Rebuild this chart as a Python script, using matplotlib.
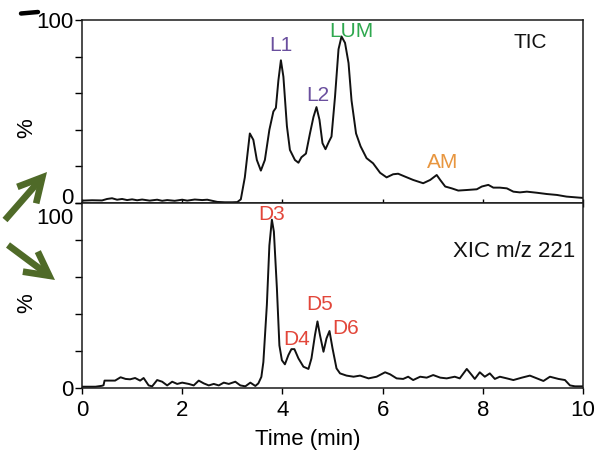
import matplotlib
matplotlib.use("Agg")
import matplotlib.pyplot as plt
from matplotlib.patches import FancyArrowPatch
from matplotlib.lines import Line2D
from matplotlib.transforms import ScaledTranslation

plt.rcParams['font.family'] = ['Liberation Sans', 'DejaVu Sans']

# ---------------- data ----------------
tic_t = [0.0, 0.2, 0.4, 0.5, 0.6, 0.7, 0.8, 0.9, 1.0, 1.1, 1.2, 1.35, 1.5, 1.6, 1.7,
         1.85, 2.0, 2.1, 2.25, 2.4, 2.5, 2.6, 2.7, 2.85, 3.0, 3.1, 3.17, 3.25, 3.35,
         3.42, 3.49, 3.57, 3.65, 3.74, 3.82, 3.87, 3.92, 3.97, 4.02, 4.09, 4.15, 4.25,
         4.32, 4.38, 4.47, 4.55, 4.62, 4.68, 4.74, 4.80, 4.86, 4.93, 4.98, 5.05, 5.12,
         5.18, 5.25, 5.32, 5.38, 5.47, 5.56, 5.68, 5.81, 5.95, 6.08, 6.21, 6.31, 6.45,
         6.61, 6.81, 6.95, 7.08, 7.15, 7.25, 7.38, 7.51, 7.68, 7.88, 7.98, 8.11, 8.21,
         8.34, 8.48, 8.61, 8.74, 8.88, 9.08, 9.28, 9.48, 9.67, 9.94, 10.0]
tic_v = [1.3, 1.5, 1.4, 2.2, 2.6, 1.8, 2.2, 1.6, 2.0, 1.5, 1.9, 1.3, 1.8, 1.2, 1.6,
         1.2, 1.8, 1.3, 1.9, 1.6, 1.8, 1.2, 0.6, 0.4, 0.4, 0.5, 2.0, 14, 38,
         34.5, 23.5, 17.7, 23.5, 40, 50, 52, 67, 78, 69, 42, 29, 23.5,
         22, 25, 27, 38, 47, 52.4, 45.5, 32.7, 29.4, 33.6, 36.3, 58, 84,
         91, 87.5, 76.5, 56, 38, 31, 24.5, 21.7, 16.5, 14, 15.7, 16, 14.4,
         12.6, 10.8, 12.6, 15.3, 12.6, 9, 8, 6.8, 7.1, 7.5, 9, 9.9, 8.4,
         8.4, 8, 6.2, 5.8, 6.2, 5.6, 4.9, 4.4, 3.5, 2.9, 2.8]

xic_t = [0.0, 0.27, 0.4, 0.43, 0.45, 0.55, 0.66, 0.77, 0.87, 0.96, 1.06, 1.16, 1.23,
         1.33, 1.40, 1.50, 1.60, 1.70, 1.80, 1.90, 2.00, 2.13, 2.23, 2.33, 2.43, 2.53,
         2.63, 2.73, 2.83, 2.93, 3.06, 3.16, 3.26, 3.36, 3.46, 3.52, 3.58, 3.62, 3.69,
         3.74, 3.79, 3.83, 3.89, 3.94, 3.99, 4.05, 4.12, 4.18, 4.24, 4.32, 4.42, 4.52,
         4.58, 4.65, 4.70, 4.75, 4.82, 4.88, 4.94, 5.00, 5.08, 5.15, 5.28, 5.42, 5.55,
         5.72, 5.88, 6.05, 6.15, 6.28, 6.41, 6.51, 6.61, 6.75, 6.88, 7.01, 7.15, 7.28,
         7.44, 7.54, 7.68, 7.78, 7.84, 7.94, 8.04, 8.14, 8.24, 8.34, 8.48, 8.61, 8.78,
         8.94, 9.08, 9.21, 9.34, 9.51, 9.64, 9.74, 9.84, 10.0]
xic_v = [0.7, 0.7, 1.2, 1.5, 4.0, 4.0, 4.0, 5.8, 4.9, 4.7, 5.4, 4.0, 5.4,
         1.4, 0.9, 4.3, 3.4, 1.4, 3.4, 2.2, 2.9, 2.2, 1.4, 4.0, 2.5, 1.4,
         2.2, 1.4, 2.9, 2.2, 3.4, 1.4, 0.9, 2.9, 1.1, 2.5, 6, 14, 45,
         77, 91, 84.5, 54, 23, 15, 12.8, 17.8, 21, 21, 16, 11.5, 10.3,
         16, 28.6, 36, 28.6, 19.6, 26.8, 30.8, 21.5, 10.6, 7.9, 6.7, 6.1, 6.7,
         5.2, 6.1, 8.5, 7.4, 5.2, 4.9, 6.1, 4.3, 6.1, 5.6, 7.0, 5.6, 5.2,
         6.1, 5.2, 10.3, 7.0, 4.9, 8.5, 6.1, 7.9, 4.9, 6.1, 5.2, 4.3, 5.6,
         6.7, 5.2, 3.8, 6.1, 4.9, 4.3, 1.4, 0.9, 0.9]

tic_labels = ["L1", "L2", "LUM", "AM"]
tic_label_pos = [(3.97, 86), (4.71, 58.6), (5.38, 93.7), (7.19, 21.9)]
tic_label_colors = ["#6a4f9e", "#6a4f9e", "#2fa84f", "#e8963f"]

xic_labels = ["D3", "D4", "D5", "D6"]
xic_label_pos = [(3.79, 94), (4.29, 26), (4.75, 45), (5.27, 32)]
xic_label_color = "#e2463a"

x_ticks = [0, 2, 4, 6, 8, 10]
y_ticks = [0, 20, 40, 60, 80, 100]

# ---------------- figure ----------------
W, H = 597, 455
fig = plt.figure(figsize=(W / 100, H / 100), dpi=100)

left = 82 / W
width = (583 - 82) / W
ax1 = fig.add_axes([left, 1 - 203 / H, width, (203 - 20) / H])
ax2 = fig.add_axes([left, 1 - 388 / H, width, (388 - 203) / H])

lw_line = 1.4
for ax in (ax1, ax2):
    ax.set_xlim(0, 10)
    ax.set_ylim(0, 100)
    for s in ax.spines.values():
        s.set_linewidth(1.1)
        s.set_color("#1a1a1a")
    ax.set_yticks(y_ticks)
    ax.set_xticks(x_ticks)
    ax.tick_params(axis='y', direction='out', length=5, width=1.0, pad=1,
                   labelsize=16, left=True, right=False)
    ax.tick_params(axis='x', width=1.0)

ax1.plot(tic_t, tic_v, color="#111111", lw=lw_line)
ax2.plot(xic_t, xic_v, color="#111111", lw=lw_line)

# y tick labels only at 0 and 100
ax1.set_yticklabels(["0", "", "", "", "", "100"])
ax2.set_yticklabels(["0", "", "", "", "", "100"])
lab_top0 = ax1.get_yticklabels()[0]
lab_top0.set_transform(lab_top0.get_transform()
                       + ScaledTranslation(0, 0.065, fig.dpi_scale_trans))
lab_bot100 = ax2.get_yticklabels()[-1]
lab_bot100.set_transform(lab_bot100.get_transform()
                         + ScaledTranslation(0, -0.135, fig.dpi_scale_trans))

ax1.tick_params(axis='x', direction='inout', length=6, labelbottom=False)
ax2.tick_params(axis='x', direction='out', length=4, pad=5, labelsize=16,
                top=False)

ax1.set_ylabel("%", fontsize=16)
ax2.set_ylabel("%", fontsize=16)
ax1.yaxis.set_label_coords(-0.09, 0.41)
ax2.yaxis.set_label_coords(-0.09, 0.46)

ax2.set_xlabel("Time (min)", fontsize=16)
ax2.xaxis.set_label_coords(0.451, -0.22)

for lab, (x, y), c in zip(tic_labels, tic_label_pos, tic_label_colors):
    ax1.text(x, y, lab, color=c, fontsize=15, ha='center', va='center')
for lab, (x, y) in zip(xic_labels, xic_label_pos):
    ax2.text(x, y, lab, color=xic_label_color, fontsize=15, ha='center', va='center')

ax1.text(9.28, 87.7, "TIC", fontsize=15, ha='right', va='center', color="#111111")
ax2.text(9.84, 74, "XIC m/z 221", fontsize=16, ha='right', va='center', color="#111111")

# cropped panel letter remnant (top-left)
fig.add_artist(Line2D([21 / W, 38 / W], [1 - 13.5 / H, 1 - 12 / H],
                      transform=fig.transFigure, color="black", lw=3.2,
                      solid_capstyle='round'))

# green arrows
arrow_color = "#4f6a28"
for (x0, y0), (x1, y1) in [((5, 220), (47, 172)), ((8, 245), (55, 280))]:
    arr = FancyArrowPatch((x0 / W, 1 - y0 / H), (x1 / W, 1 - y1 / H),
                          transform=fig.transFigure,
                          arrowstyle="->,head_length=0.85,head_width=0.45",
                          mutation_scale=20, lw=4.8, color=arrow_color,
                          shrinkA=0, shrinkB=0, capstyle='butt',
                          joinstyle='miter')
    fig.add_artist(arr)

fig.savefig("out.png", dpi=100)
